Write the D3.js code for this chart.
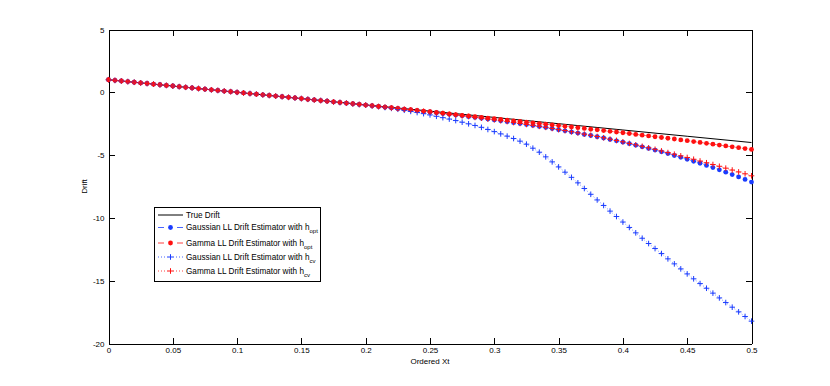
<!DOCTYPE html>
<html>
<head>
<meta charset="utf-8">
<script src="https://cdn.jsdelivr.net/npm/d3@7"></script>
<style>
body { margin: 0; background: #fff; }
text { font-family: "Liberation Sans", Arial, Helvetica, sans-serif; fill: #000; }
</style>
</head>
<body>
<div id="chart-area"></div>
<script>
// Ordered Xt is sampled every 0.005 from 0 to 0.5
const xStep = 0.005;

// true drift (straight line)
const trueX = [0, 0.05, 0.1, 0.15, 0.2, 0.25, 0.3, 0.35, 0.4, 0.45, 0.5];
const trueDrift = [1, 0.5, 0, -0.5, -1, -1.5, -2, -2.5, -3, -3.5, -4];

// Gaussian LL estimator, h_opt
const gaussOpt = [
    1.00, 0.95, 0.90, 0.85, 0.80, 0.75, 0.70, 0.65, 0.60, 0.55,
    0.50, 0.45, 0.40, 0.35, 0.30, 0.25, 0.20, 0.15, 0.10, 0.05,
    0.00, -0.05, -0.10, -0.15, -0.20, -0.25, -0.30, -0.35, -0.40, -0.45,
    -0.50, -0.56, -0.61, -0.66, -0.71, -0.77, -0.82, -0.87, -0.92, -0.97,
    -1.02, -1.08, -1.13, -1.19, -1.24, -1.30, -1.35, -1.41, -1.46, -1.52,
    -1.57, -1.63, -1.69, -1.75, -1.81, -1.87, -1.94, -2.00, -2.07, -2.13,
    -2.20, -2.27, -2.34, -2.42, -2.49, -2.57, -2.64, -2.72, -2.80, -2.89,
    -2.98, -3.07, -3.16, -3.25, -3.35, -3.44, -3.54, -3.64, -3.75, -3.86,
    -3.97, -4.09, -4.21, -4.34, -4.47, -4.60, -4.74, -4.88, -5.03, -5.18,
    -5.33, -5.49, -5.65, -5.82, -5.99, -6.17, -6.36, -6.55, -6.74, -6.94,
    -7.15
];

// Gamma LL estimator, h_opt
const gammaOpt = [
    1.00, 0.95, 0.90, 0.85, 0.80, 0.75, 0.70, 0.65, 0.60, 0.55,
    0.50, 0.45, 0.40, 0.35, 0.30, 0.25, 0.20, 0.15, 0.10, 0.05,
    0.00, -0.05, -0.10, -0.15, -0.20, -0.25, -0.30, -0.35, -0.40, -0.45,
    -0.50, -0.56, -0.61, -0.66, -0.71, -0.76, -0.81, -0.86, -0.91, -0.96,
    -1.02, -1.07, -1.13, -1.18, -1.23, -1.29, -1.34, -1.39, -1.44, -1.50,
    -1.55, -1.61, -1.66, -1.72, -1.77, -1.83, -1.88, -1.94, -1.99, -2.05,
    -2.10, -2.16, -2.21, -2.27, -2.32, -2.38, -2.43, -2.49, -2.54, -2.60,
    -2.65, -2.71, -2.76, -2.82, -2.88, -2.94, -2.99, -3.05, -3.11, -3.16,
    -3.22, -3.28, -3.35, -3.41, -3.47, -3.54, -3.60, -3.66, -3.72, -3.79,
    -3.85, -3.92, -3.99, -4.06, -4.13, -4.20, -4.27, -4.34, -4.41, -4.48,
    -4.55
];

// Gaussian LL estimator, h_cv
const gaussCv = [
    1.00, 0.95, 0.90, 0.85, 0.80, 0.75, 0.70, 0.65, 0.60, 0.55,
    0.50, 0.45, 0.40, 0.35, 0.30, 0.25, 0.20, 0.15, 0.10, 0.05,
    0.00, -0.05, -0.10, -0.15, -0.20, -0.25, -0.30, -0.35, -0.40, -0.45,
    -0.50, -0.55, -0.60, -0.65, -0.70, -0.76, -0.81, -0.86, -0.92, -0.97,
    -1.02, -1.08, -1.14, -1.21, -1.28, -1.35, -1.43, -1.52, -1.61, -1.70,
    -1.80, -1.91, -2.02, -2.13, -2.25, -2.38, -2.51, -2.64, -2.79, -2.96,
    -3.13, -3.31, -3.49, -3.68, -3.89, -4.13, -4.45, -4.77, -5.14, -5.54,
    -5.94, -6.36, -6.77, -7.21, -7.66, -8.12, -8.57, -9.01, -9.46, -9.89,
    -10.33, -10.76, -11.19, -11.62, -12.04, -12.44, -12.84, -13.26, -13.66, -14.06,
    -14.46, -14.85, -15.23, -15.60, -15.99, -16.37, -16.74, -17.11, -17.48, -17.85,
    -18.22
];

// Gamma LL estimator, h_cv
const gammaCv = [
    1.00, 0.95, 0.90, 0.85, 0.80, 0.75, 0.70, 0.65, 0.60, 0.55,
    0.50, 0.45, 0.40, 0.35, 0.30, 0.25, 0.20, 0.15, 0.10, 0.05,
    0.00, -0.05, -0.10, -0.15, -0.20, -0.25, -0.30, -0.35, -0.40, -0.45,
    -0.50, -0.56, -0.61, -0.66, -0.71, -0.76, -0.81, -0.87, -0.92, -0.97,
    -1.02, -1.07, -1.13, -1.18, -1.24, -1.29, -1.35, -1.40, -1.46, -1.51,
    -1.57, -1.63, -1.69, -1.75, -1.81, -1.87, -1.93, -2.00, -2.06, -2.13,
    -2.19, -2.26, -2.33, -2.41, -2.48, -2.56, -2.63, -2.71, -2.79, -2.88,
    -2.97, -3.05, -3.14, -3.23, -3.33, -3.42, -3.52, -3.62, -3.73, -3.83,
    -3.94, -4.07, -4.18, -4.30, -4.42, -4.54, -4.67, -4.80, -4.93, -5.06,
    -5.19, -5.33, -5.47, -5.61, -5.75, -5.89, -6.04, -6.19, -6.34, -6.49,
    -6.65
];

const xTicks = [0, 0.05, 0.1, 0.15, 0.2, 0.25, 0.3, 0.35, 0.4, 0.45, 0.5];
const yTicks = [5, 0, -5, -10, -15, -20];

const legendLabels = [
    ["True Drift", ""],
    ["Gaussian LL Drift Estimator with h", "opt"],
    ["Gamma LL Drift Estimator with h", "opt"],
    ["Gaussian LL Drift Estimator with h", "cv"],
    ["Gamma LL Drift Estimator with h", "cv"]
];

let margin = {top: 29.5, right: 78.5, bottom: 42.5, left: 108.5};
let width = 830 - margin.left - margin.right,
    height = 386 - margin.top - margin.bottom;

let svg = d3.select("#chart-area")
    .append("svg")
    .attr("width", 830)
    .attr("height", 386)
    .append("g")
    .attr("transform", "translate(" + margin.left + "," + margin.top + ")");

let x = d3.scaleLinear().domain([0, 0.5]).range([0, width]);
let y = d3.scaleLinear().domain([-20, 5]).range([height, 0]);

let blue = "#1a3cff",
    red = "#ff1010";

// series table
let series = [
    {name: "gaussOpt", values: gaussOpt, color: blue, marker: "dot", dash: "4,3"},
    {name: "gammaOpt", values: gammaOpt, color: red, marker: "dot", dash: "4,3"},
    {name: "gaussCv", values: gaussCv, color: blue, marker: "plus", dash: "1,2"},
    {name: "gammaCv", values: gammaCv, color: red, marker: "plus", dash: "1,2"}
];

// axes first, matlab style ticks pointing inwards
function styleAxis(sel) {
    sel.selectAll("path, line")
        .attr("stroke", "#000")
        .attr("shape-rendering", "crispEdges");
    sel.selectAll("text")
        .attr("font-size", "8px")
        .attr("fill", "#000");
}

svg.append("g")
    .attr("class", "x-axis")
    .attr("transform", "translate(0," + height + ")")
    .call(d3.axisBottom(x).tickValues(xTicks).tickSize(-6).tickSizeOuter(0).tickPadding(4)
        .tickFormat(function (d) { return String(d); }))
    .call(styleAxis);

svg.append("g")
    .attr("class", "x-axis-top")
    .call(d3.axisTop(x).tickValues(xTicks).tickSize(-6).tickSizeOuter(0).tickFormat(""))
    .call(styleAxis);

svg.append("g")
    .attr("class", "y-axis")
    .call(d3.axisLeft(y).tickValues(yTicks).tickSize(-6).tickSizeOuter(0).tickPadding(4)
        .tickFormat(function (d) { return String(d); }))
    .call(styleAxis);

svg.append("g")
    .attr("class", "y-axis-right")
    .attr("transform", "translate(" + width + ",0)")
    .call(d3.axisRight(y).tickValues(yTicks).tickSize(-6).tickSizeOuter(0).tickFormat(""))
    .call(styleAxis);

let lineTrue = d3.line()
    .x(function (d, i) { return x(trueX[i]); })
    .y(function (d) { return y(d); });

let lineSeries = d3.line()
    .x(function (d, i) { return x(i * xStep); })
    .y(function (d) { return y(d); });

// true drift
svg.append("path")
    .attr("d", lineTrue(trueDrift))
    .attr("fill", "none")
    .attr("stroke", "#000")
    .attr("stroke-width", 1);

let plusPath = "M-2.8,0H2.8M0,-2.8V2.8";

series.forEach(function (s) {
    let g = svg.append("g").attr("class", s.name);
    g.append("path")
        .attr("d", lineSeries(s.values))
        .attr("fill", "none")
        .attr("stroke", s.color)
        .attr("stroke-width", 0.6)
        .attr("stroke-dasharray", s.dash);

    if (s.marker === "dot") {
        g.selectAll("circle")
            .data(s.values)
            .enter()
            .append("circle")
            .attr("cx", function (d, i) { return x(i * xStep); })
            .attr("cy", function (d) { return y(d); })
            .attr("r", 2.4)
            .attr("fill", s.color);
    } else {
        g.selectAll("path.mk")
            .data(s.values)
            .enter()
            .append("path")
            .attr("class", "mk")
            .attr("d", plusPath)
            .attr("transform", function (d, i) {
                return "translate(" + x(i * xStep) + "," + y(d) + ")";
            })
            .attr("stroke", s.color)
            .attr("stroke-width", 1)
            .attr("fill", "none");
    }
});

// axis titles
svg.append("text")
    .attr("x", width / 2)
    .attr("y", height + 20)
    .attr("text-anchor", "middle")
    .attr("font-size", "8px")
    .text("Ordered Xt");

svg.append("text")
    .attr("transform", "translate(-22," + (height / 2) + ") rotate(-90)")
    .attr("text-anchor", "middle")
    .attr("font-size", "8px")
    .text("Drift");

// legend
let legend = svg.append("g")
    .attr("class", "legend")
    .attr("transform", "translate(" + (154 - margin.left) + "," + (207.5 - margin.top) + ")");

legend.append("rect")
    .attr("x", 0)
    .attr("y", 0)
    .attr("width", 166)
    .attr("height", 74)
    .attr("fill", "#fff")
    .attr("stroke", "#000")
    .attr("shape-rendering", "crispEdges");

let rowY = [7.5, 20, 35.5, 49.5, 63.5];
let legendItems = [{color: "#000", marker: "none", dash: null}].concat(series);

legendItems.forEach(function (s, i) {
    let row = legend.append("g").attr("transform", "translate(0," + rowY[i] + ")");
    row.append("line")
        .attr("x1", 4).attr("x2", 29)
        .attr("y1", 0).attr("y2", 0)
        .attr("stroke", s.color)
        .attr("stroke-width", s.marker === "none" ? 1 : 0.8)
        .attr("stroke-dasharray", s.marker === "dot" ? "6,13" : (s.dash || null));
    if (s.marker === "dot") {
        row.append("circle").attr("cx", 16.5).attr("cy", 0).attr("r", 2.4).attr("fill", s.color);
    } else if (s.marker === "plus") {
        row.append("path")
            .attr("d", plusPath)
            .attr("transform", "translate(16.5,0)")
            .attr("stroke", s.color)
            .attr("fill", "none");
    }
    let t = row.append("text")
        .attr("x", 32)
        .attr("y", 0)
        .attr("dy", "0.35em")
        .attr("font-size", "8.2px");
    t.append("tspan").text(legendLabels[i][0]);
    if (legendLabels[i][1]) {
        t.append("tspan")
            .attr("dy", 3)
            .attr("font-size", "6px")
            .text(legendLabels[i][1]);
    }
});
</script>
</body>
</html>
